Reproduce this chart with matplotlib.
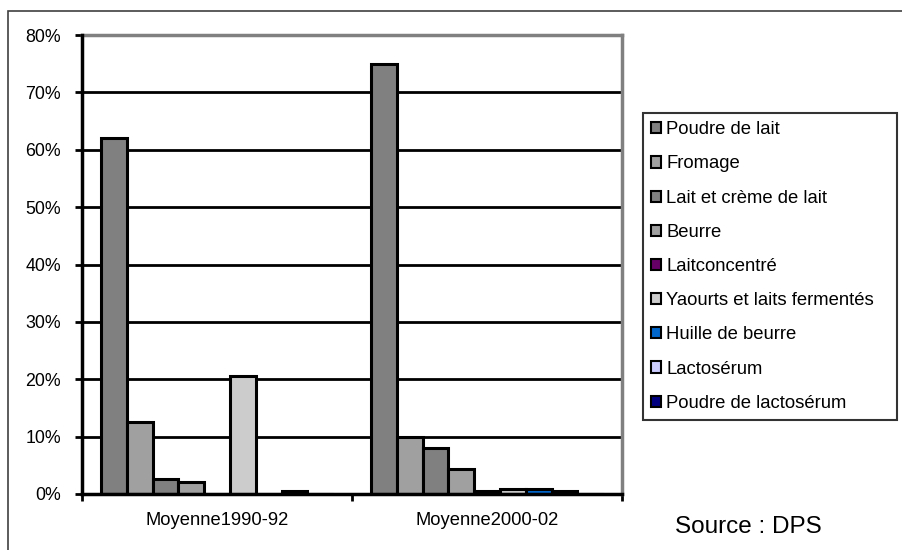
import matplotlib
matplotlib.use("Agg")
import matplotlib.pyplot as plt
import numpy as np
from matplotlib.patches import Rectangle
from matplotlib.ticker import FuncFormatter

plt.rcParams['font.family'] = ['Liberation Sans', 'DejaVu Sans']

categories = ["Moyenne1990-92", "Moyenne2000-02"]
series_names = ["Poudre de lait", "Fromage", "Lait et crème de lait", "Beurre",
                "Laitconcentré", "Yaourts et laits fermentés", "Huille de beurre",
                "Lactosérum", "Poudre de lactosérum"]
values_1990 = [62.0, 12.5, 2.6, 2.1, 0.0, 20.6, 0.0, 0.5, 0.0]
values_2000 = [75.0, 10.0, 8.0, 4.3, 0.5, 0.9, 0.9, 0.5, 0.0]
colors = ["#808080", "#A0A0A0", "#808080", "#A0A0A0", "#660066",
          "#CCCCCC", "#0066CC", "#CCCCFF", "#000080"]
yticks = [0, 10, 20, 30, 40, 50, 60, 70, 80]

W, H = 903, 550
fig = plt.figure(figsize=(W / 100, H / 100), dpi=100)
ax = fig.add_axes([82 / W, (H - 494) / H, (622 - 82) / W, (494 - 35) / H])

n = len(series_names)
group_frac = 0.86
bw = group_frac / n
x = np.arange(len(categories))
for i, name in enumerate(series_names):
    vals = [values_1990[i], values_2000[i]]
    pos = x - group_frac / 2 + bw * (i + 0.5)
    ax.bar(pos, vals, width=bw, color=colors[i], edgecolor="black",
           linewidth=2.2, label=name, zorder=3)

ax.set_xlim(-0.5, 1.5)
ax.set_ylim(0, 80)
ax.set_yticks(yticks)
ax.yaxis.set_major_formatter(FuncFormatter(lambda v, p: f"{int(v)}%"))
for t in yticks[1:-1]:
    ax.axhline(t, color="black", linewidth=2, zorder=1)

ax.set_xticks([-0.5, 0.5, 1.5], minor=False)
ax.set_xticklabels(["", "", ""])
ax.set_xticks([0, 1], minor=True)
ax.set_xticklabels(categories, minor=True)
ax.tick_params(axis="x", which="minor", length=0, pad=13, labelsize=13.2)
ax.tick_params(axis="x", which="major", direction="out", length=5, width=2)
ax.tick_params(axis="y", direction="out", length=5, width=2, labelsize=12.8, pad=10)

for s in ["left", "bottom"]:
    ax.spines[s].set_color("black")
    ax.spines[s].set_linewidth(2.5)
for s in ["top", "right"]:
    ax.spines[s].set_color("#808080")
    ax.spines[s].set_linewidth(2.5)
ax.spines["left"].set_zorder(4)
ax.spines["bottom"].set_zorder(4)

handles, labels = ax.get_legend_handles_labels()
leg = fig.legend(handles, labels, loc="upper left", mode="expand",
                 bbox_to_anchor=(643 / W, 1 - 113 / H - 0.01, (897 - 643) / W, 0.01),
                 bbox_transform=fig.transFigure,
                 frameon=True, fancybox=False, edgecolor="black", fontsize=13.3,
                 handlelength=0.55, handleheight=0.55, handletextpad=0.25,
                 labelspacing=0.93, borderpad=0.45, borderaxespad=0)
leg.get_frame().set_linewidth(1.5)
for h in leg.legend_handles:
    h.set_linewidth(1.5)

fig.text(675 / W, 1 - 527 / H, "Source : DPS", fontsize=17.5, va="center", ha="left")

# outer frame (top and left visible)
fig.add_artist(Rectangle((8 / W, -0.1), 1.2, 1 - 11 / H + 0.1, transform=fig.transFigure,
                         fill=False, edgecolor="#404040", linewidth=1.2))

fig.savefig("out.png", dpi=100)
